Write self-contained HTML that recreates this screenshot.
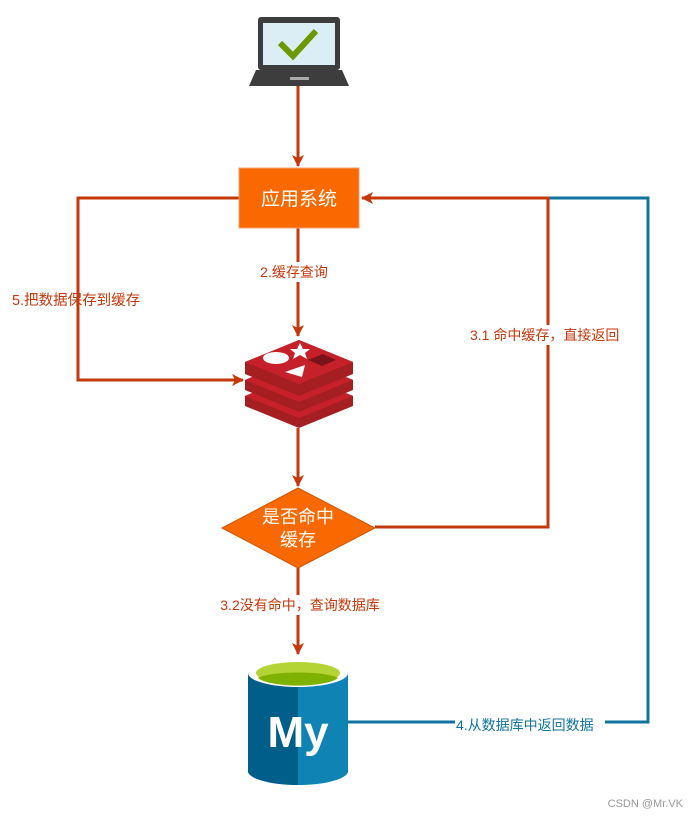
<!DOCTYPE html>
<html><head><meta charset="utf-8"><style>
html,body{margin:0;padding:0;background:#fff;width:689px;height:818px;overflow:hidden}
svg{display:block}
text{font-family:"Liberation Sans","Noto Sans CJK SC",sans-serif}
</style></head><body>
<svg width="689" height="818" viewBox="0 0 689 818" xmlns="http://www.w3.org/2000/svg">
<defs>
<marker id="a" markerWidth="12" markerHeight="12" refX="11" refY="6" orient="auto" markerUnits="userSpaceOnUse">
<path d="M0,0 L12,6 L0,12 L3,6 Z" fill="#c4380c"/></marker>
</defs>
<g fill="none" stroke-width="3">
<path d="M348,722 H648 V198 H548" stroke="#10739e"/>
<g stroke="#c4380c">
<path d="M298,86 V166" marker-end="url(#a)"/>
<path d="M298,228 V336" marker-end="url(#a)"/>
<path d="M239,198 H78 V380 H243" marker-end="url(#a)"/>
<path d="M298,428 V486" marker-end="url(#a)"/>
<path d="M298,568 V654" marker-end="url(#a)"/>
<path d="M375,527 H548 V198 H362" marker-end="url(#a)"/>
</g>
</g>
<rect x="258" y="17" width="82" height="53" rx="3" fill="#3d3d3d"/>
<rect x="263" y="23" width="72" height="42" fill="#dbeef5"/>
<path d="M280,43 L293,56 L316,31" fill="none" stroke="#6a9a00" stroke-width="6"/>
<path d="M256,70 H342 L349,86 H249 Z" fill="#3d3d3d"/>
<rect x="290" y="77" width="19" height="3" fill="#aaa"/>
<rect x="239" y="168" width="120" height="60" fill="#fa6800" stroke="#f0a070" stroke-width="1"/>
<text x="299" y="205" font-size="19" fill="#fff" text-anchor="middle">应用系统</text>
<rect x="254" y="262" width="80" height="20" fill="#fff"/>
<text x="294" y="277" font-size="14" fill="#c4380c" text-anchor="middle">2.缓存查询</text>
<text x="12" y="305" font-size="14.5" fill="#c4380c">5.把数据保存到缓存</text>
<rect x="468" y="325" width="164" height="20" fill="#fff"/>
<text x="470" y="340" font-size="14" fill="#c4380c">3.1 命中缓存，直接返回</text>
<rect x="210" y="595" width="180" height="20" fill="#fff"/>
<text x="300" y="610" font-size="14" fill="#c4380c" text-anchor="middle">3.2没有命中，查询数据库</text>
<rect x="455" y="714" width="150" height="20" fill="#fff"/>
<text x="456" y="730" font-size="14" fill="#10739e">4.从数据库中返回数据</text>
<g>
<path d="M245,396 L299,374 L353,396 V406 L299,428 L245,406 Z" fill="#a41e22"/>
<path d="M245,396 L299,418 L353,396 L299,374 Z" fill="#c6202a"/>
<path d="M245,380 L299,358 L353,380 V390 L299,412 L245,390 Z" fill="#a41e22"/>
<path d="M245,380 L299,402 L353,380 L299,358 Z" fill="#c6202a"/>
<path d="M245,362 L299,340 L353,362 V374 L299,396 L245,374 Z" fill="#a41e22"/>
<path d="M245,362 L299,384 L353,362 L299,340 Z" fill="#c6202a"/>
<ellipse cx="276" cy="358" rx="13" ry="6" fill="#fff"/>
<path d="M300,343 L303,349 L310,349 L305,353 L307,359 L300,355 L293,359 L295,353 L290,349 L297,349 Z" fill="#fff"/>
<path d="M285,372 L305,365 L302,377 Z" fill="#fff"/>
<path d="M308,360 L323,354 L336,360 L322,366 Z" fill="#7a1418"/>
</g>
<path d="M298,488 L375,528 L298,568 L222,528 Z" fill="#fa6800" stroke="#d05800" stroke-width="1"/>
<text x="298" y="523" font-size="18" fill="#fff" text-anchor="middle">是否命中</text>
<text x="298" y="546" font-size="18" fill="#fff" text-anchor="middle">缓存</text>
<path d="M248,672 V770 A50,14 0 0 0 298,785 V672 Z" fill="#005f8a"/>
<path d="M298,672 V785 A50,14 0 0 0 348,770 V672 Z" fill="#1083b5"/>
<ellipse cx="298" cy="673" rx="50" ry="14" fill="#fff"/>
<ellipse cx="298" cy="673" rx="42" ry="11" fill="#b4d334"/>
<path d="M258,678 A42,8 0 0 1 338,678 A42,11 0 0 1 258,678 Z" fill="#7fb100"/>
<text x="298" y="747" font-size="44" font-weight="bold" fill="#fff" text-anchor="middle" font-family="Liberation Sans,sans-serif">My</text>
<text x="683" y="807" font-size="11" fill="#999" text-anchor="end">CSDN @Mr.VK</text>
</svg>
</body></html>
